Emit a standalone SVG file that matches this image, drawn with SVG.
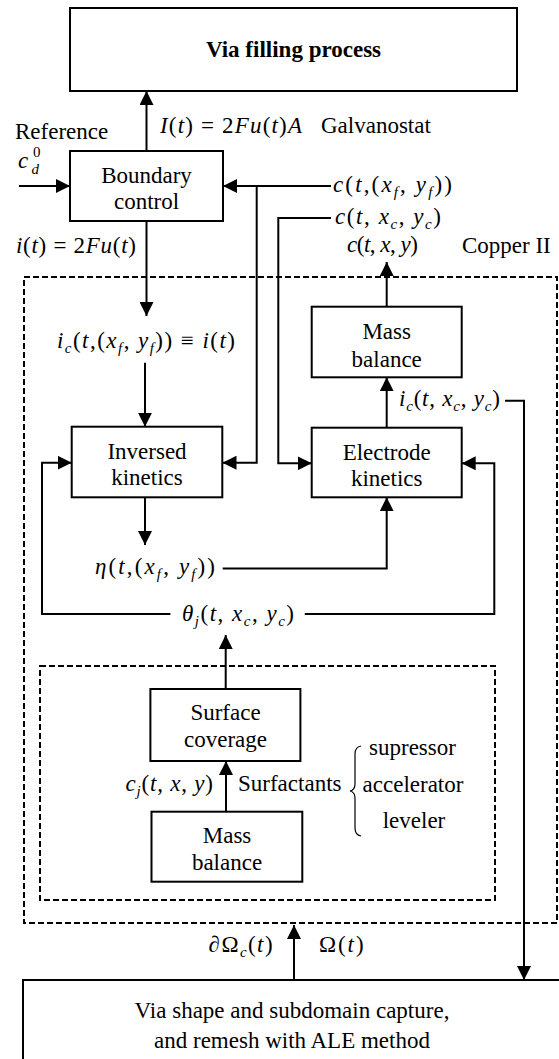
<svg xmlns="http://www.w3.org/2000/svg" width="559" height="1059" viewBox="0 0 559 1059" font-family="'Liberation Serif', 'Times New Roman', 'DejaVu Serif', serif">
  <defs>
    <marker id="arrow" markerUnits="userSpaceOnUse" markerWidth="14" markerHeight="14" refX="14" refY="7" orient="auto">
      <path d="M0,0 L14,7 L0,14 z" fill="#000"/>
    </marker>
    <style>
      text { font-family: "Liberation Serif", "Times New Roman", "DejaVu Serif", serif; font-size: 23px; fill: #000; }
      .lbl { text-anchor: middle; }
      .bold { font-weight: bold; }
      .i { font-style: italic; }
      .s { font-size: 15px; }
      .box { fill: #fff; stroke: #000; stroke-width: 2; }
      .dash { fill: none; stroke: #000; stroke-width: 2; stroke-dasharray: 6 3; }
      .arr { fill: none; stroke: #000; stroke-width: 2; marker-end: url(#arrow); }
      .brace { fill: none; stroke: #000; stroke-width: 1.2; }
    </style>
  </defs>

  <!-- dashed sub-system frames -->
  <g id="copper-frame">
    <rect class="dash" x="24" y="277" width="533" height="646"/>
  </g>
  <g id="surfactant-frame">
    <rect class="dash" x="40" y="666" width="455" height="234"/>
  </g>

  <!-- connectors -->
  <g id="connectors">
    <line class="arr" x1="146.5" y1="151" x2="146.5" y2="91"/>
    <line class="arr" x1="19" y1="186" x2="70" y2="186"/>
    <line class="arr" x1="331" y1="186" x2="223" y2="186"/>
    <polyline class="arr" points="256.7,186 256.7,462.7 222.5,462.7"/>
    <polyline class="arr" points="331,218 278.3,218 278.3,463.3 311.7,463.3"/>
    <line class="arr" x1="146.5" y1="221" x2="146.5" y2="316"/>
    <line class="arr" x1="145" y1="362.7" x2="145" y2="426.7"/>
    <line class="arr" x1="145" y1="497.3" x2="145" y2="545"/>
    <polyline class="arr" points="222.7,568.5 386.7,568.5 386.7,497.3"/>
    <polyline class="arr" points="170.4,614 42,614 42,462.7 71.7,462.7"/>
    <polyline class="arr" points="304.8,614 494.3,614 494.3,463.3 461.7,463.3"/>
    <line class="arr" x1="225.7" y1="689" x2="225.7" y2="635"/>
    <line class="arr" x1="226" y1="811.7" x2="226" y2="761"/>
    <line class="arr" x1="386.7" y1="427.7" x2="386.7" y2="377.3"/>
    <line class="arr" x1="386.7" y1="306.7" x2="386.7" y2="262"/>
    <polyline class="arr" points="505,400.7 524,400.7 524,980"/>
    <line class="arr" x1="294" y1="980" x2="294" y2="925"/>
  </g>

  <!-- blocks -->
  <g id="via-filling">
    <rect class="box" x="70" y="8" width="447" height="83"/>
    <text class="lbl bold" x="293.5" y="57">Via filling process</text>
  </g>
  <g id="boundary-control">
    <rect class="box" x="70" y="151" width="153" height="70"/>
    <text class="lbl" x="146.5" y="183">Boundary</text>
    <text class="lbl" x="146.5" y="209">control</text>
  </g>
  <g id="mass-balance-cu">
    <rect class="box" x="311.7" y="306.7" width="150" height="70.6"/>
    <text class="lbl" x="386.7" y="339">Mass</text>
    <text class="lbl" x="386.7" y="366.5">balance</text>
  </g>
  <g id="inversed-kinetics">
    <rect class="box" x="71.7" y="426.7" width="150.6" height="70.6"/>
    <text class="lbl" x="147" y="459">Inversed</text>
    <text class="lbl" x="147" y="484.5">kinetics</text>
  </g>
  <g id="electrode-kinetics">
    <rect class="box" x="311.7" y="427.7" width="150" height="69.6"/>
    <text class="lbl" x="386.7" y="460">Electrode</text>
    <text class="lbl" x="386.7" y="486">kinetics</text>
  </g>
  <g id="surface-coverage">
    <rect class="box" x="150.4" y="689" width="150" height="72"/>
    <text class="lbl" x="225.5" y="720">Surface</text>
    <text class="lbl" x="225.5" y="746.5">coverage</text>
  </g>
  <g id="mass-balance-surf">
    <rect class="box" x="151.5" y="811.7" width="150.8" height="70"/>
    <text class="lbl" x="227" y="843">Mass</text>
    <text class="lbl" x="227" y="870">balance</text>
  </g>
  <g id="via-shape">
    <rect class="box" x="23" y="980" width="545" height="100"/>
    <text class="lbl" x="292" y="1018">Via shape and subdomain capture,</text>
    <text class="lbl" x="292" y="1048">and remesh with ALE method</text>
  </g>

  <!-- signal labels -->
  <g id="labels">
    <text x="160" y="133" textLength="142" lengthAdjust="spacing"><tspan class="i">I</tspan>(<tspan class="i">t</tspan>) = 2<tspan class="i">Fu</tspan>(<tspan class="i">t</tspan>)<tspan class="i">A</tspan></text>
    <text x="321" y="133">Galvanostat</text>
    <text x="15" y="139">Reference</text>
    <text x="18" y="168" class="i">c</text>
    <text x="33" y="157" class="s">0</text>
    <text x="31.5" y="174" class="s i">d</text>
    <text x="16" y="253" textLength="120" lengthAdjust="spacing"><tspan class="i">i</tspan>(<tspan class="i">t</tspan>) = 2<tspan class="i">Fu</tspan>(<tspan class="i">t</tspan>)</text>
    <text x="333" y="192" textLength="119" lengthAdjust="spacing"><tspan class="i">c</tspan>(<tspan class="i">t</tspan>,(<tspan class="i">x</tspan><tspan class="s i" dy="5">f</tspan><tspan dy="-5">, </tspan><tspan class="i">y</tspan><tspan class="s i" dy="5">f</tspan><tspan dy="-5">))</tspan></text>
    <text x="335" y="224" textLength="106" lengthAdjust="spacing"><tspan class="i">c</tspan>(<tspan class="i">t</tspan>, <tspan class="i">x</tspan><tspan class="s i" dy="5">c</tspan><tspan dy="-5">, </tspan><tspan class="i">y</tspan><tspan class="s i" dy="5">c</tspan><tspan dy="-5">)</tspan></text>
    <text x="347" y="252" textLength="71" lengthAdjust="spacing"><tspan class="i">c</tspan>(<tspan class="i">t</tspan>, <tspan class="i">x</tspan>, <tspan class="i">y</tspan>)</text>
    <text x="462" y="253">Copper II</text>
    <text x="57" y="348" textLength="178" lengthAdjust="spacing"><tspan class="i">i</tspan><tspan class="s i" dy="5">c</tspan><tspan dy="-5">(</tspan><tspan class="i">t</tspan>,(<tspan class="i">x</tspan><tspan class="s i" dy="5">f</tspan><tspan dy="-5">, </tspan><tspan class="i">y</tspan><tspan class="s i" dy="5">f</tspan><tspan dy="-5">)) ≡ </tspan><tspan class="i">i</tspan>(<tspan class="i">t</tspan>)</text>
    <text x="399" y="406" textLength="101" lengthAdjust="spacing"><tspan class="i">i</tspan><tspan class="s i" dy="5">c</tspan><tspan dy="-5">(</tspan><tspan class="i">t</tspan>, <tspan class="i">x</tspan><tspan class="s i" dy="5">c</tspan><tspan dy="-5">, </tspan><tspan class="i">y</tspan><tspan class="s i" dy="5">c</tspan><tspan dy="-5">)</tspan></text>
    <text x="95" y="574" textLength="120" lengthAdjust="spacing"><tspan class="i">η</tspan>(<tspan class="i">t</tspan>,(<tspan class="i">x</tspan><tspan class="s i" dy="5">f</tspan><tspan dy="-5">, </tspan><tspan class="i">y</tspan><tspan class="s i" dy="5">f</tspan><tspan dy="-5">))</tspan></text>
    <text x="182" y="621" textLength="112" lengthAdjust="spacing"><tspan class="i">θ</tspan><tspan class="s i" dy="5">j</tspan><tspan dy="-5">(</tspan><tspan class="i">t</tspan>, <tspan class="i">x</tspan><tspan class="s i" dy="5">c</tspan><tspan dy="-5">, </tspan><tspan class="i">y</tspan><tspan class="s i" dy="5">c</tspan><tspan dy="-5">)</tspan></text>
    <text x="125.5" y="791" textLength="87.5" lengthAdjust="spacing"><tspan class="i">c</tspan><tspan class="s i" dy="5">j</tspan><tspan dy="-5">(</tspan><tspan class="i">t</tspan>, <tspan class="i">x</tspan>, <tspan class="i">y</tspan>)</text>
    <text x="238" y="791">Surfactants</text>
    <path class="brace" d="M361,746 Q355,747 355,754 L355,784 Q355,790 350,791 Q355,792 355,798 L355,828 Q355,835 361,836"/>
    <text class="lbl" x="412.5" y="755">supressor</text>
    <text class="lbl" x="413" y="791.5">accelerator</text>
    <text class="lbl" x="414" y="828">leveler</text>
    <text x="208.6" y="952" textLength="64" lengthAdjust="spacing"><tspan class="i">∂</tspan>Ω<tspan class="s i" dy="5">c</tspan><tspan dy="-5">(</tspan><tspan class="i">t</tspan>)</text>
    <text x="319" y="952" textLength="44.6" lengthAdjust="spacing">Ω(<tspan class="i">t</tspan>)</text>
  </g>
</svg>
